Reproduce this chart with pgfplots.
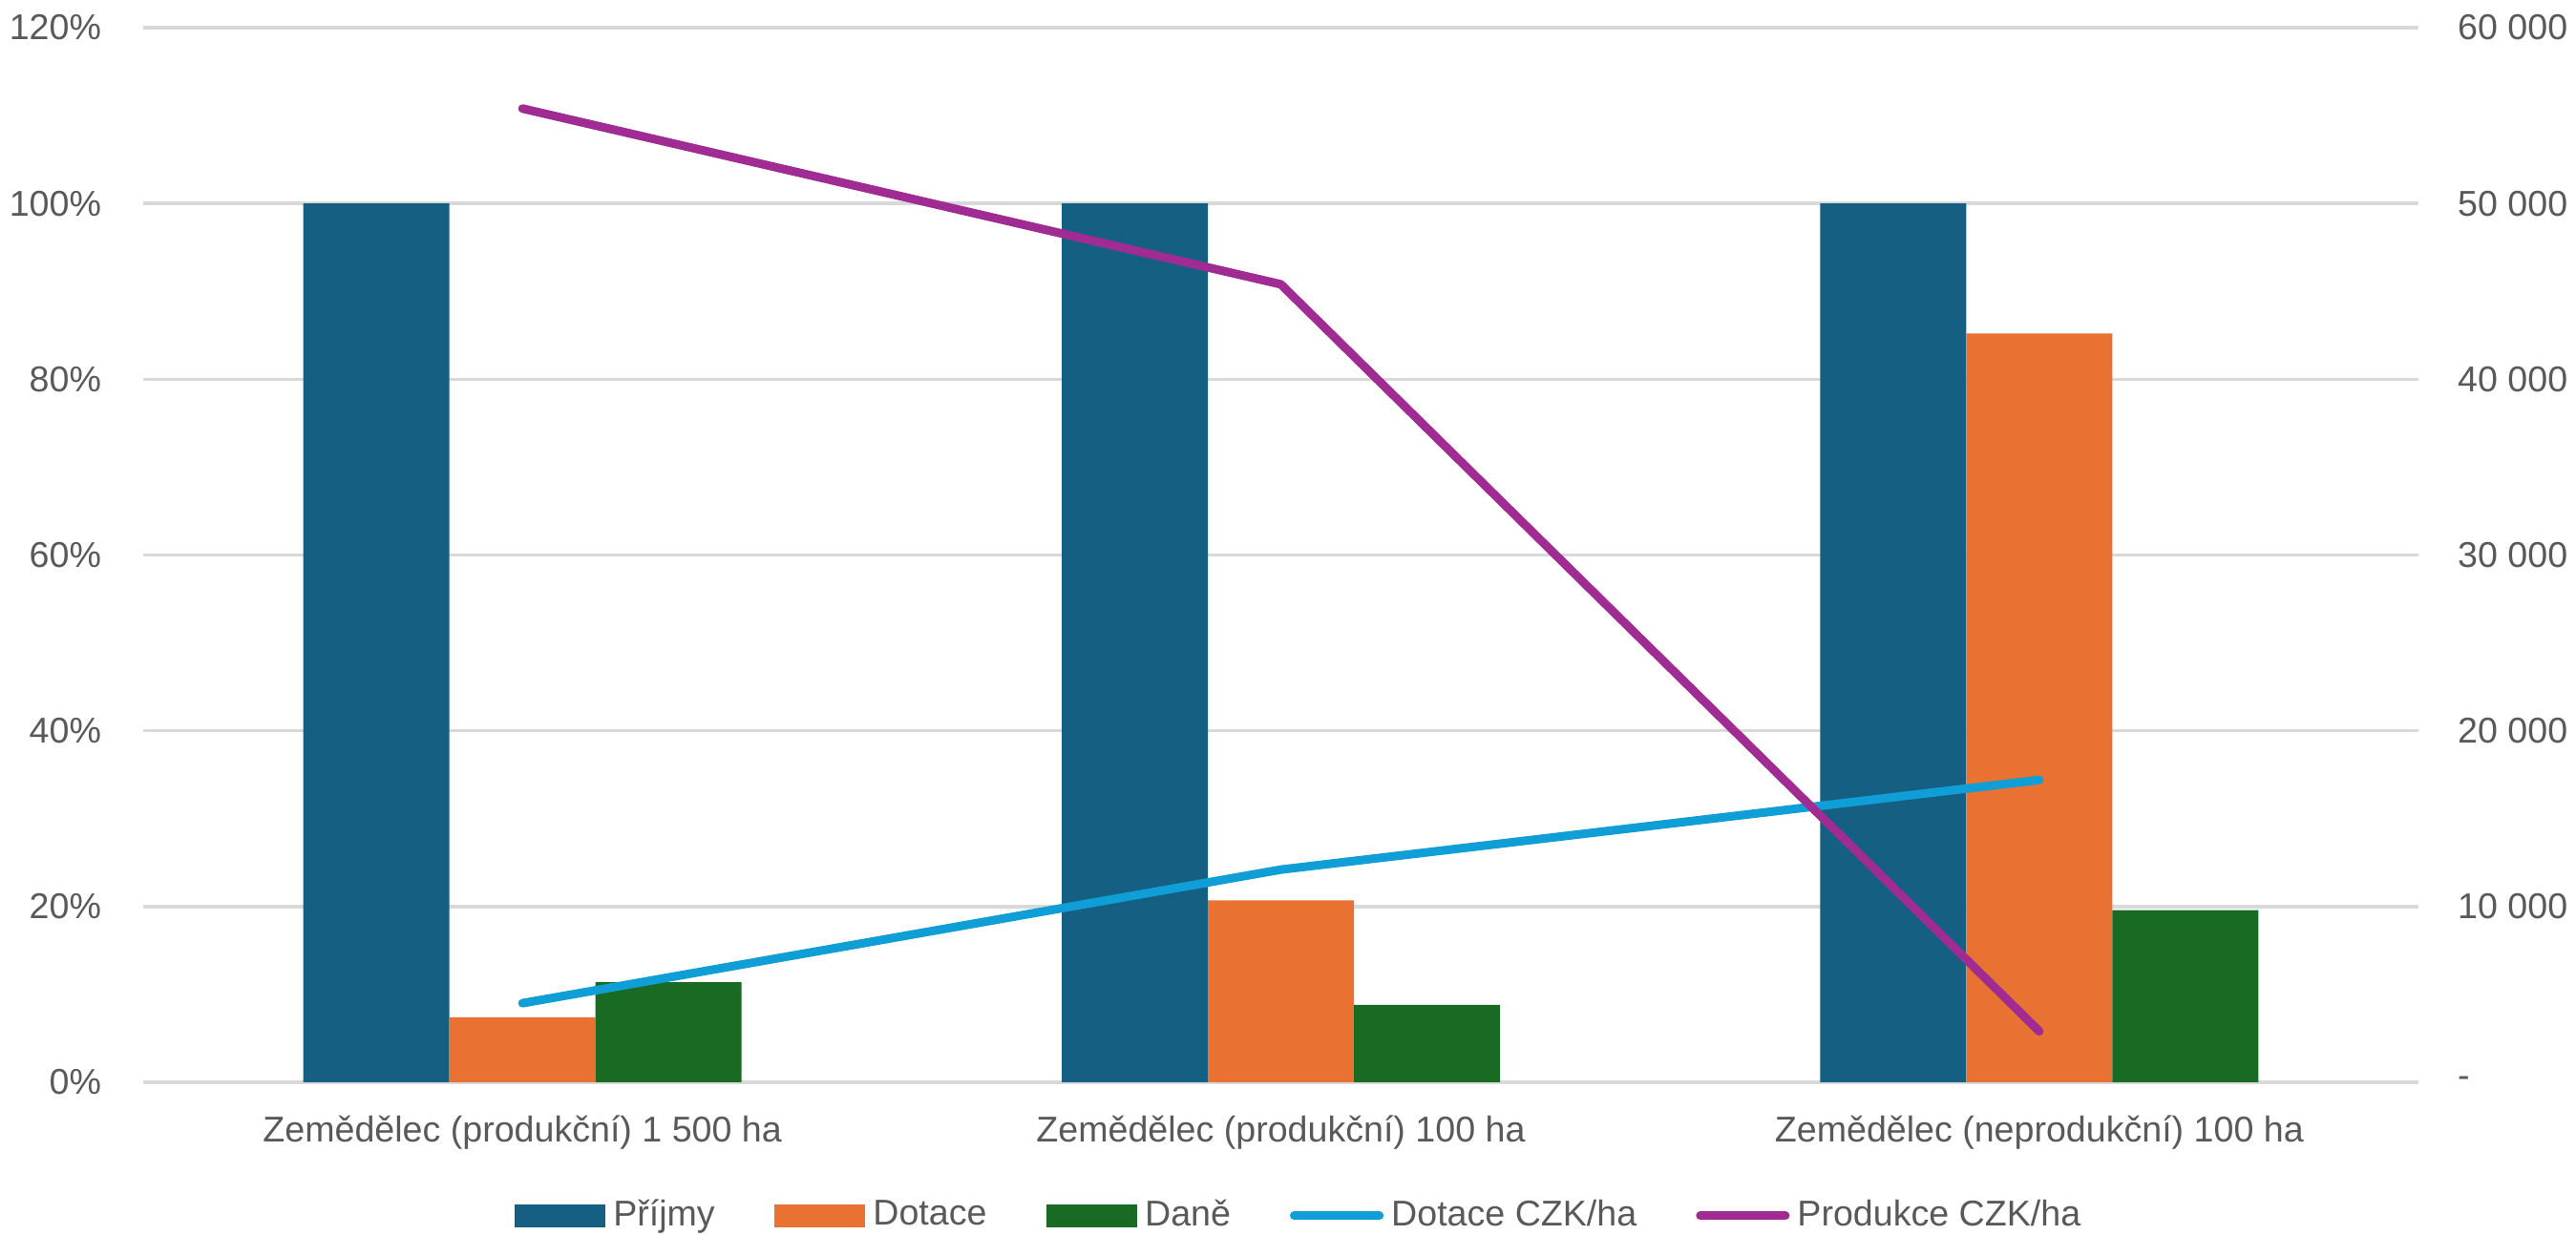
\documentclass[border=0pt]{standalone}
\usepackage{fontspec}
\setmainfont{Liberation Sans}
\usepackage{pgfplots}
\pgfplotsset{compat=1.18}
\definecolor{cIncome}{HTML}{156082}
\definecolor{cSubs}{HTML}{E97132}
\definecolor{cTax}{HTML}{196B24}
\definecolor{cSubsHa}{HTML}{0F9ED5}
\definecolor{cProdHa}{HTML}{A02B93}
\definecolor{cText}{HTML}{595959}
\definecolor{cGrid}{HTML}{D9D9D9}
\begin{document}
\begin{tikzpicture}
\pgfplotsset{
  base/.style={
    scale only axis, width=595.75pt, height=276.25pt,
    xmin=-0.5, xmax=2.5,
    axis line style={draw=none},
    tick style={draw=none},
    major tick length=0pt,
    tick label style={font=\fontsize{9.4}{11}\selectfont, text=cText},
  }
}
\begin{axis}[base,
  ymin=0, ymax=120, ytick={0,20,...,120},
  yticklabels={0\%,20\%,40\%,60\%,80\%,100\%,120\%},
  ymajorgrids, grid style={cGrid, line width=0.9pt},
  xtick={0,1,2},
  xticklabels={Zemědělec (produkční) 1~500 ha, Zemědělec (produkční) 100 ha, Zemědělec (neprodukční) 100 ha},
  xticklabel style={anchor=base, yshift=-15.75pt},
  yticklabel style={inner sep=0pt, xshift=-10.8pt},
  ybar=0pt, bar width=38.25pt,
]
\addplot[fill=cIncome, draw=none] coordinates {(0,100) (1,100) (2,100)};
\addplot[fill=cSubs, draw=none] coordinates {(0,7.4) (1,20.7) (2,85.2)};
\addplot[fill=cTax, draw=none] coordinates {(0,11.4) (1,8.8) (2,19.6)};
\end{axis}
\begin{axis}[base,
  axis y line*=right, axis x line=none,
  ymin=0, ymax=60000, ytick={0,10000,20000,30000,40000,50000,60000},
  yticklabels={-,10~000,20~000,30~000,40~000,50~000,60~000},
  yticklabel style={inner sep=0pt, xshift=10.1pt},
  legend columns=5,
  legend style={at={(0.509,-0.1267)}, anchor=center, draw=none, fill=none,
    font=\fontsize{9.4}{11}\selectfont, text=cText,
    /tikz/every even column/.append style={column sep=13.5pt}},
]
\addlegendimage{legend image code/.code={\fill[cIncome] (0pt,-2.8pt) rectangle (23.5pt,2.8pt);}}
\addlegendentry{Příjmy}
\addlegendimage{legend image code/.code={\fill[cSubs] (0pt,-2.8pt) rectangle (23.5pt,2.8pt);}}
\addlegendentry{Dotace}
\addlegendimage{legend image code/.code={\fill[cTax] (0pt,-2.8pt) rectangle (23.5pt,2.8pt);}}
\addlegendentry{Daně}
\addplot[cSubsHa, line width=2.25pt, line cap=round, line join=round,
  legend image code/.code={\draw[cSubsHa, line width=2.25pt, line cap=round] (1.1pt,0pt) -- (23.4pt,0pt);}]
  coordinates {(0,4500) (1,12100) (2,17200)};
\addlegendentry{Dotace CZK/ha}
\addplot[cProdHa, line width=2.25pt, line cap=round, line join=round,
  legend image code/.code={\draw[cProdHa, line width=2.25pt, line cap=round] (1.1pt,0pt) -- (23.4pt,0pt);}]
  coordinates {(0,55400) (1,45400) (2,2900)};
\addlegendentry{Produkce CZK/ha}
\end{axis}
\pgfresetboundingbox
\useasboundingbox (-37.5pt,-40pt) rectangle (637pt,283.5pt);
\end{tikzpicture}
\end{document}
